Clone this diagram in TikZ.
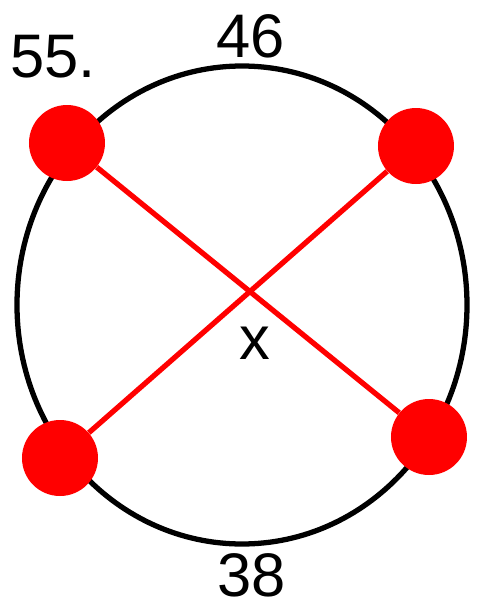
\documentclass[tikz,border=0pt]{standalone}
\usepackage{fontspec}
\setmainfont{Liberation Sans}
\begin{document}
\begin{tikzpicture}[every node/.style={font=\fontsize{35}{42}\selectfont,inner sep=1pt},
  dot/.style={circle,fill=red,inner sep=0pt,minimum size=1.52cm}]
  \useasboundingbox (-4.84,-5.98) rectangle (4.70,6.10);
  \draw[line width=3pt] (0,0) ellipse [x radius=4.5,y radius=4.78];
  \node[dot] (tl) at (-3.50,3.24) {};
  \node[dot] (tr) at (3.48,3.18) {};
  \node[dot] (bl) at (-3.64,-3.06) {};
  \node[dot] (br) at (3.74,-2.64) {};
  \draw[red,line width=3pt] (tl) -- (br);
  \draw[red,line width=3pt] (tr) -- (bl);
  \node (num) at (-3.78,4.96) {55.};
  \node (top) at (0.18,5.38) {46};
  \node (mid) at (0.26,-0.76) {x};
  \node (bot) at (0.20,-5.40) {38};
\end{tikzpicture}
\end{document}
